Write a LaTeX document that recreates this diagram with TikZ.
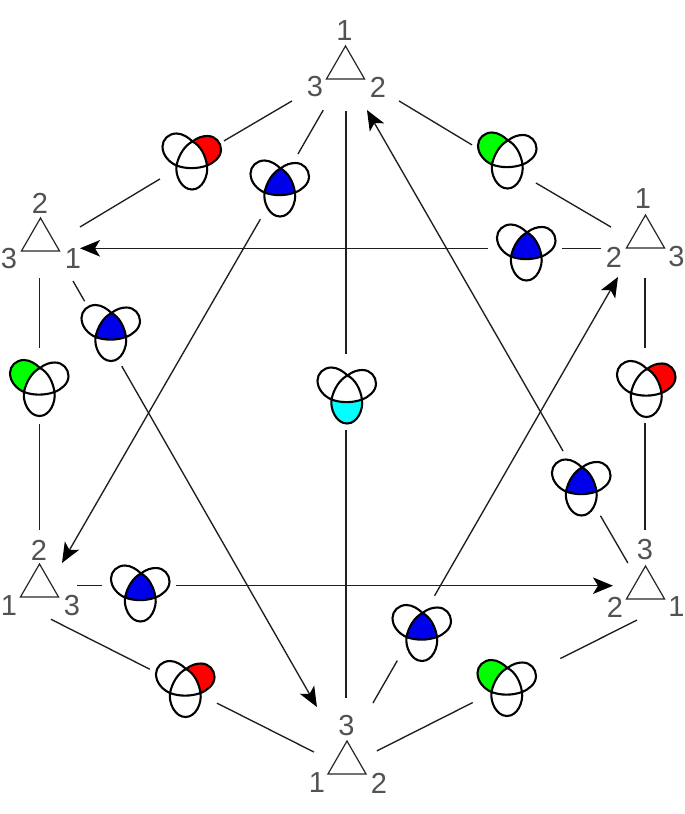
\documentclass[tikz,border=0pt]{standalone}
\usepackage{fontspec}
\setmainfont{Liberation Sans}
\usetikzlibrary{arrows.meta,shapes.geometric}

\definecolor{lobered}{RGB}{255,0,0}
\definecolor{lobegreen}{RGB}{0,255,0}
\definecolor{lobecyan}{RGB}{0,255,255}
\definecolor{coreblue}{RGB}{0,0,235}

% Regions of the trefoil icon, in local coordinates (1 unit = 1pt, y downwards)
\newcommand\regioncentre{(1,-20) .. controls (9,-16) and (14,-6) .. (15.5,4) .. controls (6,7.5) and (-6,7.5) .. (-15,4) .. controls (-13,-6) and (-7,-16) .. (1,-20) -- cycle}
\newcommand\regionright{(1,-20) .. controls (6,-24) and (11,-25.5) .. (16,-25.5) .. controls (24,-25.5) and (29.5,-19) .. (29.5,-12) .. controls (29.5,-4) and (22,1.5) .. (15.5,4) .. controls (14,-6) and (9,-16) .. (1,-20) -- cycle}
\newcommand\regionleft{(1,-20) .. controls (-3,-24) and (-9,-28) .. (-15,-28) .. controls (-23,-28) and (-29,-22) .. (-29,-15) .. controls (-29,-6) and (-22,1) .. (-15,4) .. controls (-13,-6) and (-7,-16) .. (1,-20) -- cycle}
\newcommand\regionbottom{(15.5,4) .. controls (17,14) and (11,28) .. (0.5,28) .. controls (-10,28) and (-16.5,14) .. (-15,4) .. controls (-6,7.5) and (6,7.5) .. (15.5,4) -- cycle}

\tikzset{
  pics/trefoil/.style 2 args={code={
    \fill[#1] #2;
    \draw[line width=2.1pt,black,line join=round]
      \regionright \regionleft \regionbottom;
  }},
  tri/.style={draw=black!85,line width=1.2pt,regular polygon,regular polygon sides=3,
    minimum size=44pt,inner sep=0pt,outer sep=0pt},
  num/.style={text=black!68,inner sep=0pt,font=\fontsize{29}{31}\selectfont},
  hub/.style={coordinate},
  link/.style={draw=black!88,line width=1.35pt},
  arrowlink/.style={link,-{Stealth[length=20pt,width=16.5pt,inset=5pt,black]}},
}

\begin{document}
\begin{tikzpicture}[x=1pt,y=-1pt]
\useasboundingbox (0,0) rectangle (685,814);

% Triangles and their corner numbers
\node[tri] (T1) at (345.5,68) {};
\node[tri] (T2) at (645.5,237) {};
\node[tri] (T3) at (645.5,588) {};
\node[tri] (T4) at (347,763) {};
\node[tri] (T5) at (39.5,586) {};
\node[tri] (T6) at (40.5,240) {};

\node[num] (n1a) at (344.5,31) {1};
\node[num] (n1b) at (378,87) {2};
\node[num] (n1c) at (315,87) {3};
\node[num] (n2a) at (643,199) {1};
\node[num] (n2b) at (614,257) {2};
\node[num] (n2c) at (676.5,257) {3};
\node[num] (n3a) at (676.5,607) {1};
\node[num] (n3b) at (615,607) {2};
\node[num] (n3c) at (645,550) {3};
\node[num] (n4a) at (317,783) {1};
\node[num] (n4b) at (379,783) {2};
\node[num] (n4c) at (346.5,726) {3};
\node[num] (n5a) at (9,606) {1};
\node[num] (n5b) at (39,550) {2};
\node[num] (n5c) at (72,606) {3};
\node[num] (n6a) at (73,259) {1};
\node[num] (n6b) at (40,203) {2};
\node[num] (n6c) at (9,259) {3};

% Points where the connectors pass behind each icon
\node[hub] (R1) at (191.5,160) {};
\node[hub] (G1) at (507,166) {};
\node[hub] (R2) at (645,389) {};
\node[hub] (G2) at (506.5,685.5) {};
\node[hub] (R3) at (185,687) {};
\node[hub] (G3) at (39.3,388) {};
\node[hub] (C) at (346,395.5) {};
\node[hub] (V1) at (282.4,181) {};
\node[hub] (V2) at (526,248.3) {};
\node[hub] (V3) at (582,484) {};
\node[hub] (V4) at (416,628) {};
\node[hub] (V5) at (140,585.7) {};
\node[hub] (V6) at (102.8,333) {};

% Icons
\pic at (191.5,161.5) {trefoil={lobered}{\regionright}};
\pic at (507,160.5) {trefoil={lobegreen}{\regionleft}};
\pic at (646,389) {trefoil={lobered}{\regionright}};
\pic at (506.5,688) {trefoil={lobegreen}{\regionleft}};
\pic at (185,689) {trefoil={lobered}{\regionright}};
\pic at (39,388) {trefoil={lobegreen}{\regionleft}};
\pic at (346.5,395.5) {trefoil={lobecyan}{\regionbottom}};
\pic at (279.5,188.5) {trefoil={coreblue}{\regioncentre}};
\pic at (526,252.5) {trefoil={coreblue}{\regioncentre}};
\pic at (581,487.5) {trefoil={coreblue}{\regioncentre}};
\pic at (421.5,633) {trefoil={coreblue}{\regioncentre}};
\pic at (140,593.5) {trefoil={coreblue}{\regioncentre}};
\pic at (110.5,333) {trefoil={coreblue}{\regioncentre}};

% Outer hexagon
\draw[link,shorten <=62.1pt,shorten >=37.6pt] ([shift={(0,1.5)}]T1.center) -- (R1);
\draw[link,shorten <=36.8pt,shorten >=46.1pt] (R1) -- ([shift={(0,10.7)}]T6.center);
\draw[link,shorten <=62.5pt,shorten >=40.8pt] ([shift={(0,0.7)}]T1.center) -- (G1);
\draw[link,shorten <=33.6pt,shorten >=40pt] (G1) -- ([shift={(0,10.3)}]T2.center);
\draw[link,shorten <=41pt,shorten >=41pt] ([shift={(-0.5,0)}]T2.center) -- (R2);
\draw[link,shorten <=34pt,shorten >=58pt] (R2) -- ([shift={(-0.5,0)}]T3.center);
\draw[link,shorten <=9.5pt,shorten >=60.2pt] ([shift={(0,27.8)}]T3.center) -- (G2);
\draw[link,shorten <=37.8pt,shorten >=33.5pt] (G2) -- ([shift={(0,3)}]T4.center);
\draw[link,shorten <=37pt,shorten >=35.8pt] ([shift={(0,5.7)}]T4.center) -- (R3);
\draw[link,shorten <=39.4pt,shorten >=12.7pt] (R3) -- ([shift={(0,27.5)}]T5.center);
\draw[link,shorten <=38pt,shorten >=40pt] ([shift={(-1.2,0)}]T6.center) -- (G3);
\draw[link,shorten <=36pt,shorten >=56pt] (G3) -- ([shift={(-0.2,0)}]T5.center);

% Central axis
\draw[link,shorten <=43pt,shorten >=41.5pt] ([shift={(0.5,0)}]T1.center) -- (C);
\draw[link,shorten <=34.5pt,shorten >=65pt] (C) -- ([shift={(-1,0)}]T4.center);

% Inner arrows
\draw[link,shorten <=48.6pt,shorten >=31.2pt] ([shift={(2,0)}]T1.center) -- (V1);
\draw[arrowlink,shorten <=44.1pt,shorten >=26.6pt] (V1) -- ([shift={(9.2,0)}]T5.center);
\draw[link,shorten <=44.5pt,shorten >=36pt] ([shift={(0,11.3)}]T2.center) -- (V2);
\draw[arrowlink,shorten <=38pt,shorten >=39.5pt] (V2) -- ([shift={(0,8.3)}]T6.center);
\draw[link,shorten <=47.3pt,shorten >=36.6pt] ([shift={(9,0)}]T6.center) -- (V6);
\draw[arrowlink,shorten <=38.2pt,shorten >=64.5pt] (V6) -- ([shift={(2,0)}]T4.center);
\draw[link,shorten <=37.5pt,shorten >=38pt] ([shift={(0,-0.3)}]T5.center) -- (V5);
\draw[arrowlink,shorten <=36pt,shorten >=32.5pt] (V5) -- ([shift={(0,-2.3)}]T3.center);
\draw[link,shorten <=69.2pt,shorten >=37.6pt] ([shift={(-8.5,0)}]T4.center) -- (V4);
\draw[arrowlink,shorten <=37.2pt,shorten >=46.1pt] (V4) -- ([shift={(-4.5,0)}]T2.center);
\draw[link,shorten <=28.9pt,shorten >=36.7pt] ([shift={(-3.1,0)}]T3.center) -- (V3);
\draw[arrowlink,shorten <=38pt,shorten >=48.5pt] (V3) -- ([shift={(-2.7,0)}]T1.center);
\end{tikzpicture}
\end{document}
